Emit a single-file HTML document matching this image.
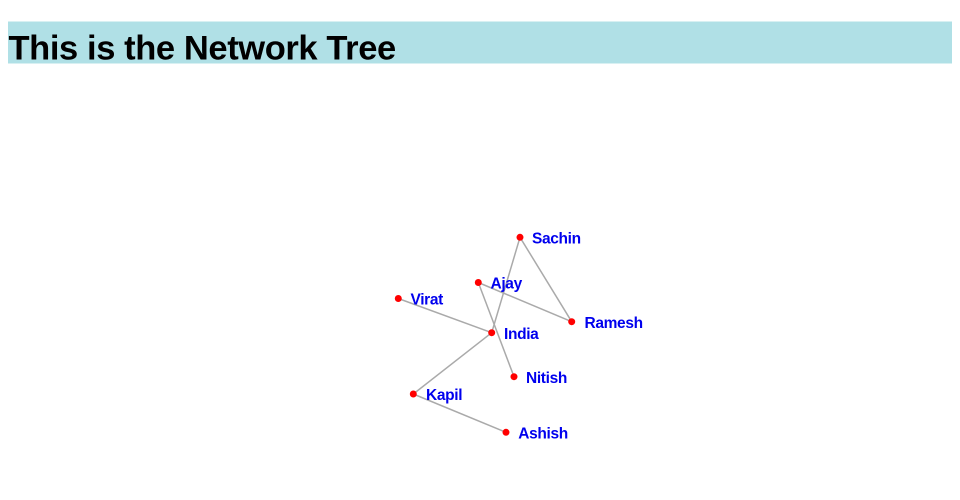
<!DOCTYPE html>
<html>
<head>
<meta charset="utf-8">
<style>
  html,body{margin:0;padding:0;background:#fff;width:960px;height:500px;overflow:hidden;}
  svg{display:block;}
</style>
</head>
<body>
<svg width="960" height="500" viewBox="0 0 960 500" xmlns="http://www.w3.org/2000/svg">
  <rect x="8" y="21.5" width="944" height="42" fill="#b0e0e6"/>
  <text x="8.5" y="59.5" font-family="Liberation Sans, Arial, sans-serif" font-weight="bold" font-size="34.5" letter-spacing="-0.4" fill="#000">This is the Network Tree</text>

  <g stroke="#aaaaaa" stroke-width="1.5" fill="none">
    <line x1="520" y1="237.3" x2="491.7" y2="332.7"/>
    <line x1="520" y1="237.3" x2="571.7" y2="321.7"/>
    <line x1="478.3" y1="282.5" x2="571.7" y2="321.7"/>
    <line x1="478.3" y1="282.5" x2="514" y2="376.7"/>
    <line x1="398.3" y1="298.5" x2="491.7" y2="332.7"/>
    <line x1="491.7" y1="332.7" x2="413.3" y2="394"/>
    <line x1="413.3" y1="394" x2="506" y2="432.3"/>
  </g>

  <g fill="#ff0000">
    <circle cx="520" cy="237.3" r="3.5"/>
    <circle cx="478.3" cy="282.5" r="3.5"/>
    <circle cx="398.3" cy="298.5" r="3.5"/>
    <circle cx="491.7" cy="332.7" r="3.5"/>
    <circle cx="571.7" cy="321.7" r="3.5"/>
    <circle cx="514" cy="376.7" r="3.5"/>
    <circle cx="413.3" cy="394" r="3.5"/>
    <circle cx="506" cy="432.3" r="3.5"/>
  </g>

  <g fill="#0000ee" font-family="Liberation Sans, Arial, sans-serif" font-weight="bold" font-size="15.5" letter-spacing="-0.35">
    <text x="532" y="243.5">Sachin</text>
    <text x="490.5" y="288.7">Ajay</text>
    <text x="410.5" y="304.7">Virat</text>
    <text x="504" y="338.9">India</text>
    <text x="584.5" y="327.9">Ramesh</text>
    <text x="526" y="382.9">Nitish</text>
    <text x="426" y="400.2">Kapil</text>
    <text x="518.3" y="438.5">Ashish</text>
  </g>
</svg>
</body>
</html>
